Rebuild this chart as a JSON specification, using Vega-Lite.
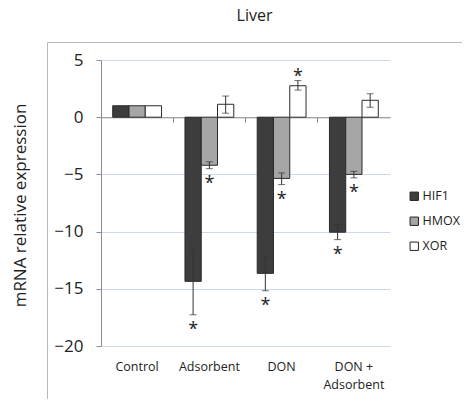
{
  "$schema": "https://vega.github.io/schema/vega-lite/v6.json",
  "autosize": "none",
  "padding": {"left": 47, "top": 42, "right": 0, "bottom": 0},
  "width": 415,
  "height": 357,
  "background": "white",
  "config": {
    "font": "Open Sans",
    "view": {"stroke": "#b8b8b8", "strokeWidth": 1},
    "legend": {"padding": 0}
  },
  "title": {"text": "Liver", "fontSize": 16, "fontWeight": "normal", "color": "#222", "anchor": "middle", "offset": 18},
  "data": {"values": [
    {"group": "Control", "gene": "HIF1", "value": 1, "lo": 1, "hi": 1, "star": ""},
    {"group": "Control", "gene": "HMOX", "value": 1, "lo": 1, "hi": 1, "star": ""},
    {"group": "Control", "gene": "XOR", "value": 1, "lo": 1, "hi": 1, "star": ""},
    {"group": "Adsorbent", "gene": "HIF1", "value": -14.35, "lo": -17.27, "hi": -11.45, "star": "below"},
    {"group": "Adsorbent", "gene": "HMOX", "value": -4.2, "lo": -4.5, "hi": -3.9, "star": "below"},
    {"group": "Adsorbent", "gene": "XOR", "value": 1.13, "lo": 0.35, "hi": 1.85, "star": ""},
    {"group": "DON", "gene": "HIF1", "value": -13.65, "lo": -15.17, "hi": -12.2, "star": "below"},
    {"group": "DON", "gene": "HMOX", "value": -5.35, "lo": -5.89, "hi": -4.87, "star": "below"},
    {"group": "DON", "gene": "XOR", "value": 2.75, "lo": 2.37, "hi": 3.2, "star": "above"},
    {"group": "DON + Adsorbent", "gene": "HIF1", "value": -10.05, "lo": -10.7, "hi": -9.4, "star": "below"},
    {"group": "DON + Adsorbent", "gene": "HMOX", "value": -5.0, "lo": -5.3, "hi": -4.73, "star": "below"},
    {"group": "DON + Adsorbent", "gene": "XOR", "value": 1.48, "lo": 0.87, "hi": 2.05, "star": ""}
  ]},
  "layer": [
    {
      "mark": {"type": "bar", "stroke": "#2b2b2b", "strokeWidth": 1},
      "encoding": {
        "x": {"field": "group", "type": "nominal", "sort": ["Control", "Adsorbent", "DON", "DON + Adsorbent"],
          "scale": {"range": [54, 343], "paddingInner": 0, "paddingOuter": 0},
          "axis": {"orient": "bottom", "title": null, "domain": false, "ticks": false, "grid": false, "labelAngle": 0,
            "offset": -41, "labelPadding": 2, "labelFontSize": 12.5, "labelColor": "#222", "labelLineHeight": 18,
            "labelExpr": "datum.value == 'DON + Adsorbent' ? ['DON +', 'Adsorbent'] : datum.value"}},
        "xOffset": {"field": "gene", "type": "nominal", "scale": {"paddingInner": 0, "paddingOuter": 0.72}},
        "y": {"field": "value", "type": "quantitative",
          "scale": {"domain": [-20, 5], "range": [304, 18], "nice": false, "zero": false},
          "axis": {"title": "mRNA relative expression", "values": [5, 0, -5, -10, -15, -20], "offset": -54,
            "domainColor": "#8c8c8c", "tickColor": "#8c8c8c", "tickSize": 5, "labelPadding": 13,
            "labelFontSize": 17, "labelColor": "#222", "grid": true, "gridColor": "#cbd8ea", "gridWidth": 1,
            "titleFontSize": 17, "titleFontWeight": "normal", "titleColor": "#222", "titleAngle": -90,
            "titleX": -81, "titleY": 163, "titleAlign": "center", "titleBaseline": "middle"}},
        "color": {"field": "gene", "type": "nominal",
          "scale": {"domain": ["HIF1", "HMOX", "XOR"], "range": ["#3d3d3d", "#a6a6a6", "#ffffff"]},
          "legend": {"title": null, "orient": "none", "legendX": 361, "legendY": 148, "symbolType": "square",
            "symbolSize": 70, "symbolStrokeColor": "#222", "symbolStrokeWidth": 1, "labelFontSize": 12.5,
            "labelColor": "#222", "rowPadding": 12, "labelOffset": 2}}
      }
    },
    {
      "transform": [{"filter": "datum.hi != datum.lo"}],
      "mark": {"type": "rule", "color": "#333", "strokeWidth": 1},
      "encoding": {
        "x": {"field": "group", "type": "nominal", "sort": ["Control", "Adsorbent", "DON", "DON + Adsorbent"],
          "axis": {"orient": "top", "title": null, "labels": false, "grid": false, "offset": -75.3,
            "domain": true, "ticks": true,
            "domainColor": "#8c8c8c", "tickColor": "#8c8c8c", "tickSize": -5, "bandPosition": 0}},
        "xOffset": {"field": "gene", "type": "nominal"},
        "y": {"field": "lo", "type": "quantitative"},
        "y2": {"field": "hi"}
      }
    },
    {
      "transform": [{"filter": "datum.hi != datum.lo"}],
      "mark": {"type": "tick", "orient": "horizontal", "color": "#333", "size": 7, "thickness": 1},
      "encoding": {
        "x": {"field": "group", "type": "nominal", "sort": ["Control", "Adsorbent", "DON", "DON + Adsorbent"], "axis": null},
        "xOffset": {"field": "gene", "type": "nominal"},
        "y": {"field": "lo", "type": "quantitative"}
      }
    },
    {
      "transform": [{"filter": "datum.hi != datum.lo"}],
      "mark": {"type": "tick", "orient": "horizontal", "color": "#333", "size": 7, "thickness": 1},
      "encoding": {
        "x": {"field": "group", "type": "nominal", "sort": ["Control", "Adsorbent", "DON", "DON + Adsorbent"], "axis": null},
        "xOffset": {"field": "gene", "type": "nominal"},
        "y": {"field": "hi", "type": "quantitative"}
      }
    },
    {
      "transform": [{"filter": "datum.star == 'below'"}],
      "mark": {"type": "text", "text": "*", "fontSize": 18, "color": "#222", "baseline": "alphabetic", "dy": 20},
      "encoding": {
        "x": {"field": "group", "type": "nominal", "sort": ["Control", "Adsorbent", "DON", "DON + Adsorbent"], "axis": null},
        "xOffset": {"field": "gene", "type": "nominal"},
        "y": {"field": "lo", "type": "quantitative"}
      }
    },
    {
      "transform": [{"filter": "datum.star == 'above'"}],
      "mark": {"type": "text", "text": "*", "fontSize": 18, "color": "#222", "baseline": "alphabetic", "dy": 1},
      "encoding": {
        "x": {"field": "group", "type": "nominal", "sort": ["Control", "Adsorbent", "DON", "DON + Adsorbent"], "axis": null},
        "xOffset": {"field": "gene", "type": "nominal"},
        "y": {"field": "hi", "type": "quantitative"}
      }
    }
  ]
}
